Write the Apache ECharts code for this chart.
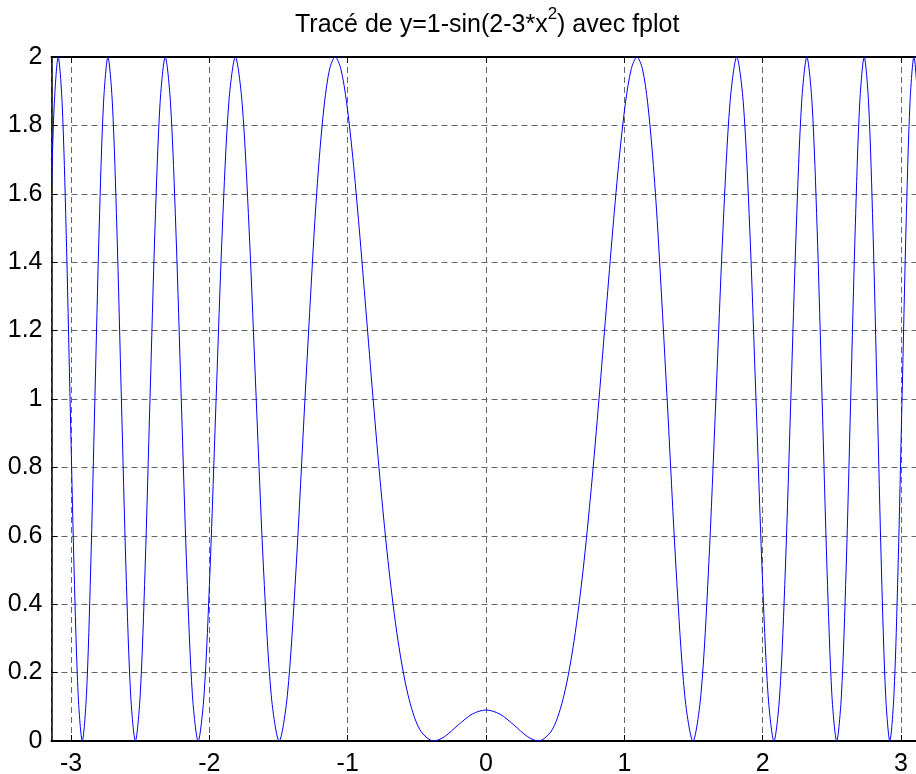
<!DOCTYPE html>
<html><head><meta charset="utf-8">
<script src="https://cdn.jsdelivr.net/npm/echarts@6/dist/echarts.min.js"></script>
<style>html,body{margin:0;padding:0;background:#fff}#c{width:916px;height:774px}</style>
</head><body><div id="c"></div>
<script>
const xValues = [
  -3.14159, -3.12128, -3.09319, -3.06485, -3.03625, -3.00737, -2.97821, -2.94876, -2.91901, -2.88896,
  -2.85860, -2.82791, -2.79688, -2.76550, -2.73376, -2.70165, -2.66915, -2.63626, -2.60295, -2.56920,
  -2.53501, -2.50034, -2.46520, -2.42954, -2.39335, -2.35661, -2.31928, -2.28134, -2.24276, -2.20351,
  -2.16355, -2.12283, -2.08131, -2.03895, -1.99569, -1.95148, -1.90624, -1.85989, -1.81236, -1.76356,
  -1.71336, -1.66164, -1.60827, -1.55306, -1.49582, -1.43629, -1.37419, -1.30915, -1.24070, -1.20502,
  -1.16825, -1.13028, -1.09099, -1.05024, -1.00784, -0.96357, -0.91717, -0.86829, -0.81650, -0.76118,
  -0.70152, -0.63629, -0.56356, -0.47993, -0.37824, -0.3, -0.2, -0.1,
  0,
  0.1, 0.2, 0.3, 0.37824, 0.47993, 0.56356, 0.63629, 0.70152, 0.76118, 0.81650,
  0.86829, 0.91717, 0.96357, 1.00784, 1.05024, 1.09099, 1.13028, 1.16825, 1.20502, 1.24070,
  1.30915, 1.37419, 1.43629, 1.49582, 1.55306, 1.60827, 1.66164, 1.71336, 1.76356, 1.81236,
  1.85989, 1.90624, 1.95148, 1.99569, 2.03895, 2.08131, 2.12283, 2.16355, 2.20351, 2.24276,
  2.28134, 2.31928, 2.35661, 2.39335, 2.42954, 2.46520, 2.50034, 2.53501, 2.56920, 2.60295,
  2.63626, 2.66915, 2.70165, 2.73376, 2.76550, 2.79688, 2.82791, 2.85860, 2.88896, 2.91901,
  2.94876, 2.97821, 3.00737, 3.03625, 3.06485, 3.09319, 3.12128, 3.14159
];
const yValues = [
  1.617, 1.866, 2, 1.866, 1.5, 1, 0.5, 0.134, 0, 0.134,
  0.5, 1, 1.5, 1.866, 2, 1.866, 1.5, 1, 0.5, 0.134,
  0, 0.134, 0.5, 1, 1.5, 1.866, 2, 1.866, 1.5, 1,
  0.5, 0.134, 0, 0.134, 0.5, 1, 1.5, 1.866, 2, 1.866,
  1.5, 1, 0.5, 0.134, 0, 0.134, 0.5, 1, 1.5, 1.7071,
  1.866, 1.9659, 2, 1.9659, 1.866, 1.7071, 1.5, 1.2588, 1, 0.7412,
  0.5, 0.2929, 0.134, 0.0341, 0, 0.0127, 0.0473, 0.0787,
  0.0907,
  0.0787, 0.0473, 0.0127, 0, 0.0341, 0.134, 0.2929, 0.5, 0.7412, 1,
  1.2588, 1.5, 1.7071, 1.866, 1.9659, 2, 1.9659, 1.866, 1.7071, 1.5,
  1, 0.5, 0.134, 0, 0.134, 0.5, 1, 1.5, 1.866, 2,
  1.866, 1.5, 1, 0.5, 0.134, 0, 0.134, 0.5, 1, 1.5,
  1.866, 2, 1.866, 1.5, 1, 0.5, 0.134, 0, 0.134, 0.5,
  1, 1.5, 1.866, 2, 1.866, 1.5, 1, 0.5, 0.134, 0,
  0.134, 0.5, 1, 1.5, 1.866, 2, 1.866, 1.617
];
const titleText = ['Tracé de y=1-sin(2-3*x', '2', ') avec fplot'];
const xRange = [-3.14159, 3.14159];
const yRange = [0, 2];

const chart = echarts.init(document.getElementById('c'), null, {renderer: 'canvas'});
const FONT = 'Liberation Sans, Arial, Helvetica, sans-serif';
const gridLine = {show: true, lineStyle: {color: '#666666', type: [6, 4], width: 1}};
const data = xValues.map((x, i) => [x, yValues[i]]);

chart.setOption({
  animation: false,
  backgroundColor: '#fff',
  title: {
    text: '{a|' + titleText[0] + '}{s|' + titleText[1] + '}{a|' + titleText[2] + '}',
    left: 290, top: 1,
    textStyle: {
      rich: {
        a: {fontFamily: FONT, fontSize: 25, fontWeight: 'normal', color: '#000', lineHeight: 32, verticalAlign: 'bottom'},
        s: {fontFamily: FONT, fontSize: 17, fontWeight: 'normal', color: '#000', lineHeight: 32, verticalAlign: 'top', padding: [0, 0, 10, 0]}
      }
    }
  },
  grid: {left: 51.5, right: -4.6, top: 57, bottom: 33, containLabel: false, outerBoundsMode: 'none'},
  xAxis: [{
    type: 'value', min: xRange[0], max: xRange[1], splitNumber: 6,
    axisLine: {show: true, onZero: false, lineStyle: {color: '#000', width: 2}},
    axisTick: {show: true, inside: true, length: 6, lineStyle: {color: '#000'}},
    axisLabel: {show: true, showMinLabel: false, showMaxLabel: false, color: '#000', fontFamily: FONT, fontSize: 25, margin: 11},
    splitLine: gridLine
  }, {
    type: 'value', position: 'top', min: xRange[0], max: xRange[1], splitNumber: 6,
    axisLine: {show: true, onZero: false, lineStyle: {color: '#000', width: 2}},
    axisTick: {show: true, inside: true, length: 6, lineStyle: {color: '#000'}},
    axisLabel: {show: false}, splitLine: {show: false}
  }],
  yAxis: [{
    type: 'value', min: yRange[0], max: yRange[1], interval: 0.2,
    axisLine: {show: true, onZero: false, lineStyle: {color: '#000', width: 1.5}},
    axisTick: {show: true, inside: true, length: 6, lineStyle: {color: '#000'}},
    axisLabel: {color: '#000', fontFamily: FONT, fontSize: 25, margin: 9},
    splitLine: gridLine
  }],
  series: [{
    type: 'line', data: data, showSymbol: false, smooth: 0.3,
    lineStyle: {color: '#0000ff', width: 1}, clip: true
  }]
});
</script>
</body></html>
